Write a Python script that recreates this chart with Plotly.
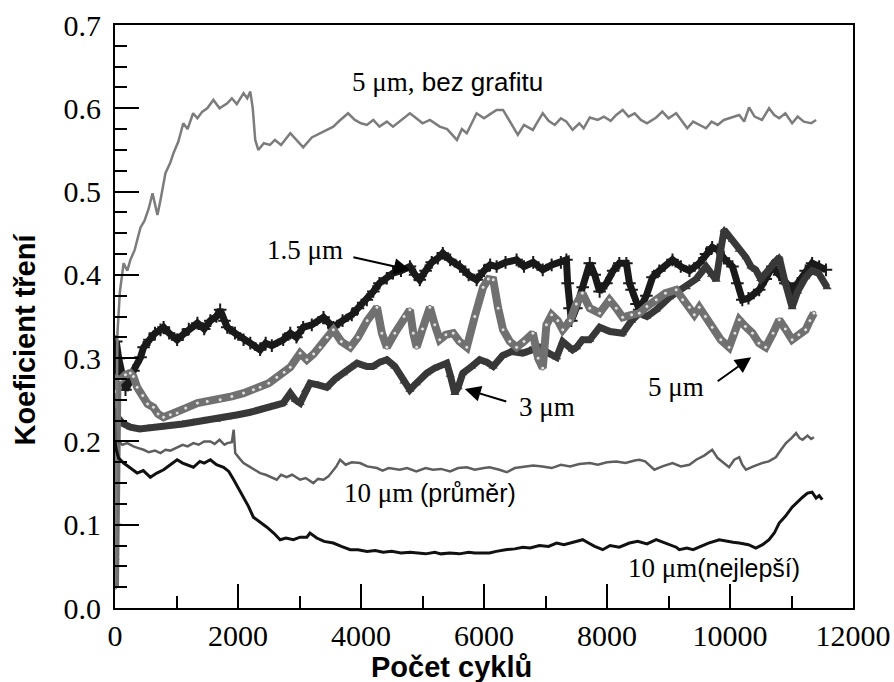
import plotly.graph_objects as go

# ---------------- data (cycles, friction coefficient) ----------------
bez_grafitu_5um = [(0,0.03),(20,0.2),(40,0.33),(80,0.38),(140,0.414),(200,0.405),(250,0.418),(320,0.43),(415,0.457),(480,0.465),(550,0.48),(610,0.498),(650,0.485),(690,0.472),(740,0.49),(820,0.522),(900,0.535),(950,0.546),(1030,0.56),(1110,0.582),(1180,0.575),(1270,0.594),(1340,0.588),(1420,0.596),(1500,0.6),(1600,0.61),(1700,0.6),(1825,0.606),(1900,0.612),(1980,0.605),(2090,0.618),(2150,0.612),(2200,0.62),(2240,0.6),(2280,0.562),(2330,0.55),(2420,0.558),(2520,0.556),(2600,0.562),(2700,0.556),(2850,0.57),(2950,0.562),(3060,0.553),(3200,0.565),(3335,0.57),(3450,0.575),(3550,0.578),(3650,0.585),(3790,0.594),(3900,0.586),(4000,0.582),(4095,0.58),(4200,0.586),(4300,0.578),(4420,0.584),(4520,0.578),(4650,0.586),(4795,0.594),(4900,0.588),(5000,0.582),(5120,0.586),(5280,0.578),(5400,0.575),(5480,0.568),(5560,0.562),(5640,0.575),(5720,0.57),(5880,0.594),(6000,0.588),(6100,0.593),(6205,0.598),(6310,0.598),(6420,0.585),(6550,0.568),(6650,0.58),(6795,0.574),(6880,0.585),(6955,0.594),(7050,0.585),(7150,0.58),(7250,0.588),(7340,0.584),(7440,0.574),(7550,0.582),(7620,0.576),(7720,0.589),(7850,0.586),(7950,0.59),(8060,0.585),(8150,0.592),(8255,0.598),(8350,0.59),(8450,0.594),(8550,0.586),(8650,0.582),(8800,0.589),(8900,0.596),(9000,0.588),(9125,0.594),(9200,0.586),(9305,0.576),(9400,0.584),(9500,0.58),(9610,0.576),(9700,0.584),(9800,0.58),(9900,0.586),(10040,0.589),(10150,0.592),(10230,0.584),(10310,0.601),(10400,0.59),(10520,0.586),(10635,0.6),(10720,0.592),(10800,0.588),(10900,0.594),(11010,0.582),(11100,0.59),(11200,0.584),(11320,0.582),(11400,0.586)]

um_1_5 = [(0,0.10),(10,0.2),(20,0.32),(60,0.3),(120,0.275),(170,0.262),(230,0.27),(300,0.285),(415,0.301),(465,0.313),(560,0.322),(650,0.33),(740,0.334),(790,0.337),(880,0.33),(1010,0.322),(1100,0.328),(1200,0.335),(1340,0.342),(1450,0.335),(1550,0.345),(1650,0.35),(1710,0.358),(1780,0.345),(1825,0.337),(1950,0.33),(2090,0.322),(2200,0.318),(2360,0.31),(2450,0.318),(2550,0.315),(2735,0.322),(2850,0.33),(2950,0.325),(3060,0.337),(3200,0.34),(3390,0.349),(3470,0.342),(3550,0.337),(3700,0.345),(3850,0.352),(3950,0.36),(4095,0.37),(4200,0.38),(4300,0.39),(4420,0.396),(4520,0.402),(4650,0.405),(4795,0.41),(4880,0.4),(4955,0.394),(5050,0.405),(5150,0.415),(5250,0.42),(5330,0.426),(5450,0.418),(5610,0.41),(5750,0.4),(5880,0.394),(6000,0.405),(6100,0.412),(6205,0.41),(6350,0.415),(6530,0.418),(6650,0.41),(6800,0.415),(6955,0.406),(7100,0.412),(7250,0.415),(7340,0.418),(7360,0.39),(7390,0.36),(7420,0.345),(7500,0.36),(7605,0.385),(7720,0.414),(7800,0.4),(7880,0.38),(7990,0.39),(8100,0.405),(8200,0.414),(8315,0.414),(8365,0.39),(8400,0.382),(8480,0.365),(8525,0.358),(8640,0.375),(8740,0.397),(8850,0.405),(9065,0.418),(9200,0.41),(9340,0.405),(9500,0.414),(9610,0.425),(9710,0.433),(9800,0.43),(9900,0.42),(10040,0.41),(10120,0.39),(10200,0.37),(10300,0.372),(10475,0.382),(10580,0.395),(10690,0.41),(10800,0.4),(10900,0.39),(11010,0.382),(11100,0.39),(11230,0.405),(11335,0.414),(11450,0.41),(11560,0.406)]

um_3 = [(0,0.06),(5,0.13),(10,0.19),(20,0.24),(40,0.229),(120,0.222),(250,0.217),(400,0.215),(550,0.216),(740,0.217),(900,0.219),(1100,0.221),(1275,0.223),(1450,0.225),(1650,0.226),(1825,0.229),(2000,0.232),(2200,0.235),(2360,0.238),(2550,0.242),(2735,0.246),(2850,0.258),(2930,0.25),(3010,0.246),(3100,0.262),(3170,0.27),(3300,0.268),(3445,0.265),(3580,0.275),(3715,0.282),(3850,0.29),(3935,0.294),(4095,0.29),(4195,0.29),(4300,0.295),(4420,0.298),(4550,0.29),(4700,0.272),(4795,0.262),(4900,0.27),(5070,0.282),(5200,0.288),(5395,0.294),(5450,0.28),(5525,0.258),(5580,0.265),(5655,0.282),(5800,0.29),(5930,0.298),(6050,0.295),(6150,0.29),(6300,0.303),(6450,0.308),(6630,0.306),(6750,0.31),(6905,0.313),(7050,0.306),(7180,0.301),(7280,0.32),(7440,0.31),(7505,0.313),(7600,0.322),(7720,0.322),(7880,0.337),(8050,0.332),(8255,0.33),(8400,0.345),(8525,0.354),(8650,0.35),(8800,0.358),(9015,0.373),(9150,0.38),(9290,0.385),(9450,0.395),(9610,0.41),(9700,0.4),(9775,0.394),(9850,0.43),(9905,0.454),(9970,0.448),(10040,0.442),(10150,0.43),(10260,0.421),(10340,0.41),(10420,0.406),(10500,0.395),(10580,0.402),(10700,0.415),(10800,0.421),(10900,0.39),(11010,0.361),(11100,0.38),(11230,0.397),(11330,0.405),(11440,0.402),(11580,0.385)]

um_5 = [(0,0.025),(5,0.15),(10,0.26),(40,0.275),(90,0.274),(170,0.28),(250,0.282),(300,0.278),(360,0.265),(450,0.255),(530,0.245),(625,0.241),(700,0.233),(790,0.229),(900,0.232),(1010,0.234),(1150,0.24),(1340,0.246),(1500,0.248),(1710,0.25),(1900,0.254),(2090,0.258),(2250,0.262),(2360,0.265),(2500,0.27),(2630,0.277),(2750,0.283),(2850,0.289),(3010,0.306),(3120,0.298),(3230,0.305),(3335,0.313),(3450,0.325),(3550,0.334),(3680,0.32),(3825,0.313),(3950,0.325),(4100,0.345),(4260,0.361),(4340,0.33),(4420,0.313),(4550,0.33),(4700,0.35),(4795,0.358),(4850,0.33),(4905,0.313),(5000,0.335),(5120,0.361),(5200,0.34),(5280,0.322),(5380,0.328),(5500,0.33),(5600,0.32),(5720,0.313),(5850,0.35),(5985,0.385),(6070,0.395),(6150,0.394),(6230,0.36),(6310,0.334),(6420,0.32),(6530,0.313),(6650,0.32),(6795,0.33),(6880,0.3),(6955,0.288),(7015,0.34),(7100,0.352),(7200,0.345),(7280,0.334),(7400,0.345),(7500,0.365),(7600,0.378),(7720,0.36),(7880,0.354),(8040,0.37),(8150,0.36),(8255,0.349),(8400,0.352),(8525,0.354),(8650,0.362),(8800,0.37),(8950,0.378),(9125,0.382),(9230,0.37),(9340,0.361),(9420,0.352),(9500,0.361),(9600,0.35),(9710,0.337),(9850,0.322),(9985,0.313),(10080,0.33),(10150,0.346),(10250,0.338),(10365,0.33),(10470,0.318),(10580,0.313),(10700,0.33),(10800,0.346),(10900,0.335),(11010,0.322),(11120,0.328),(11230,0.334),(11300,0.345),(11365,0.354)]

um_10_prumer = [(0,0.24),(10,0.21),(20,0.2),(40,0.2),(120,0.196),(200,0.198),(300,0.194),(380,0.192),(465,0.19),(550,0.187),(650,0.189),(740,0.186),(820,0.19),(900,0.189),(1010,0.193),(1100,0.196),(1180,0.194),(1275,0.198),(1360,0.196),(1450,0.2),(1550,0.2),(1620,0.197),(1700,0.202),(1780,0.196),(1825,0.198),(1900,0.199),(1930,0.214),(1945,0.198),(1955,0.186),(2020,0.18),(2090,0.174),(2180,0.17),(2270,0.166),(2360,0.162),(2450,0.16),(2540,0.157),(2630,0.154),(2700,0.16),(2790,0.157),(2880,0.16),(3010,0.154),(3100,0.156),(3225,0.15),(3300,0.155),(3390,0.154),(3470,0.158),(3550,0.166),(3600,0.17),(3660,0.178),(3750,0.172),(3850,0.175),(3985,0.174),(4100,0.17),(4260,0.168),(4350,0.165),(4450,0.168),(4630,0.166),(4750,0.168),(4900,0.164),(5050,0.168),(5170,0.166),(5300,0.167),(5450,0.164),(5580,0.168),(5720,0.169),(5850,0.166),(6000,0.168),(6090,0.169),(6250,0.166),(6370,0.163),(6500,0.168),(6630,0.169),(6800,0.171),(6950,0.17),(7100,0.168),(7250,0.172),(7400,0.17),(7550,0.173),(7720,0.174),(7850,0.172),(8000,0.175),(8150,0.176),(8300,0.174),(8450,0.177),(8525,0.178),(8620,0.176),(8700,0.17),(8770,0.166),(8900,0.17),(9065,0.174),(9200,0.17),(9340,0.172),(9450,0.178),(9580,0.183),(9710,0.19),(9800,0.18),(9900,0.174),(9985,0.169),(10070,0.178),(10150,0.181),(10200,0.172),(10260,0.166),(10380,0.17),(10520,0.174),(10630,0.176),(10745,0.181),(10830,0.19),(10910,0.198),(11000,0.204),(11075,0.21),(11130,0.204),(11180,0.202),(11260,0.207),(11320,0.203),(11365,0.205)]

um_10_nejlepsi = [(0,0.2),(20,0.19),(60,0.18),(140,0.174),(250,0.168),(360,0.162),(460,0.165),(575,0.157),(680,0.162),(790,0.166),(900,0.172),(1010,0.178),(1100,0.174),(1180,0.172),(1275,0.169),(1380,0.176),(1450,0.174),(1550,0.178),(1650,0.172),(1765,0.169),(1850,0.164),(1930,0.154),(2000,0.145),(2090,0.133),(2170,0.122),(2250,0.109),(2350,0.104),(2470,0.097),(2580,0.09),(2685,0.082),(2780,0.084),(2900,0.082),(3010,0.085),(3120,0.085),(3170,0.09),(3280,0.084),(3400,0.08),(3550,0.078),(3680,0.074),(3825,0.07),(3950,0.07),(4100,0.068),(4230,0.069),(4360,0.067),(4500,0.068),(4650,0.066),(4800,0.067),(4905,0.066),(5050,0.065),(5200,0.067),(5300,0.065),(5445,0.066),(5600,0.065),(5750,0.067),(5850,0.066),(5985,0.066),(6090,0.066),(6200,0.068),(6350,0.07),(6500,0.071),(6630,0.073),(6750,0.072),(6900,0.075),(7050,0.074),(7180,0.078),(7300,0.076),(7450,0.079),(7605,0.082),(7700,0.078),(7800,0.074),(7930,0.07),(8050,0.075),(8200,0.073),(8365,0.078),(8500,0.08),(8650,0.077),(8800,0.082),(8950,0.078),(9125,0.073),(9175,0.07),(9300,0.072),(9400,0.07),(9500,0.073),(9650,0.078),(9825,0.082),(9950,0.08),(10050,0.079),(10150,0.078),(10300,0.076),(10420,0.072),(10530,0.076),(10635,0.082),(10720,0.09),(10800,0.102),(10900,0.11),(11010,0.121),(11100,0.128),(11180,0.133),(11260,0.138),(11335,0.139),(11400,0.132),(11450,0.135),(11500,0.13)]

x_ticks = [0, 2000, 4000, 6000, 8000, 10000, 12000]
y_ticks = [0.0, 0.1, 0.2, 0.3, 0.4, 0.5, 0.6, 0.7]
x_title = "Počet cyklů"
y_title = "Koeficient tření"

SERIF = "Liberation Serif, Times New Roman, serif"
SANS = "Liberation Sans, Arial, sans-serif"


def xy(pairs):
    return [p[0] for p in pairs], [p[1] for p in pairs]


fig = go.Figure()

# thick marker series
x, y = xy(um_1_5)
fig.add_trace(go.Scatter(x=x, y=y, mode="lines+markers",
                         line=dict(color="#1a1a1a", width=7),
                         marker=dict(symbol="cross-thin", size=9, line=dict(color="#1a1a1a", width=2))))
x, y = xy(um_3)
fig.add_trace(go.Scatter(x=x, y=y, mode="lines+markers",
                         line=dict(color="#383838", width=7),
                         marker=dict(symbol="triangle-up", size=8, color="#383838")))
x, y = xy(um_5)
fig.add_trace(go.Scatter(x=x, y=y, mode="lines+markers",
                         line=dict(color="#707070", width=8),
                         marker=dict(symbol="circle", size=4, color="#e0e0e0",
                                     line=dict(color="#707070", width=1))))
# thin lines
x, y = xy(bez_grafitu_5um)
fig.add_trace(go.Scatter(x=x, y=y, mode="lines", line=dict(color="#7c7c7c", width=2.5)))
x, y = xy(um_10_prumer)
fig.add_trace(go.Scatter(x=x, y=y, mode="lines", line=dict(color="#5e5e5e", width=2.5)))
x, y = xy(um_10_nejlepsi)
fig.add_trace(go.Scatter(x=x, y=y, mode="lines", line=dict(color="#111111", width=3)))

axis_common = dict(
    showgrid=False, zeroline=False, showline=True, linecolor="black", linewidth=2,
    mirror=True, ticks="inside", ticklen=24, tickwidth=2, tickcolor="black",
    tickfont=dict(family=SERIF, size=30, color="black"), automargin=False,
)
fig.update_xaxes(range=[0, 12000], tickvals=x_ticks, ticktext=[str(v) for v in x_ticks],
                 minor=dict(dtick=1000, ticks="inside", ticklen=12, tickwidth=2, tickcolor="black"),
                 **axis_common)
fig.update_yaxes(range=[0, 0.7], tickvals=y_ticks, ticktext=[f"{v:.1f}" for v in y_ticks],
                 minor=dict(dtick=0.025, ticks="inside", ticklen=12, tickwidth=2, tickcolor="black"),
                 ticklabelstandoff=6, **axis_common)

serif_span = '<span style="font-family:Liberation Serif;font-size:27px">{}</span>'
ann = []
ann.append(dict(x=5400, y=0.631, text=serif_span.format("5 μm,") + " bez grafitu",
                font=dict(family=SANS, size=26)))
ann.append(dict(x=3096, y=0.43, text="1.5 μm", font=dict(family=SERIF, size=27)))
ann.append(dict(x=7017, y=0.241, text="3 μm", font=dict(family=SERIF, size=27)))
ann.append(dict(x=9127, y=0.265, text="5 μm", font=dict(family=SERIF, size=27)))
ann.append(dict(x=5120, y=0.138, text=serif_span.format("10 μm ") + "(průměr)",
                font=dict(family=SANS, size=25)))
ann.append(dict(x=9743, y=0.048, text=serif_span.format("10 μm") + "(nejlepší)",
                font=dict(family=SANS, size=25)))
for a in ann:
    a.update(xref="x", yref="y", showarrow=False, xanchor="center", yanchor="middle",
             font=dict(a["font"], color="black"))

arrows = [
    dict(x=4795, y=0.406, ax=-58, ay=-13),
    dict(x=5687, y=0.263, ax=43, ay=13),
    dict(x=10344, y=0.301, ax=-35, ay=25),
]
for a in arrows:
    a.update(xref="x", yref="y", text="", showarrow=True, arrowhead=2, arrowsize=1.6,
             arrowwidth=2, arrowcolor="black", standoff=0)
    ann.append(a)

W, H = 894, 682
L, T = 114.5, 25
R = W - 853
B = H - 608

ann.append(dict(x=451, y=667, text="<b>" + x_title + "</b>", textangle=0,
                font=dict(family=SANS, size=29, color="black")))
ann.append(dict(x=24, y=340, text="<b>" + y_title + "</b>", textangle=-90,
                font=dict(family=SANS, size=29, color="black")))
for a in ann[-2:]:
    a.update(xref="paper", yref="paper", showarrow=False, xanchor="center", yanchor="middle")
    a["x"] = (a["x"] - L) / (W - L - R)
    a["y"] = (H - B - a["y"]) / (H - T - B)

fig.update_layout(width=W, height=H, margin=dict(l=L, r=R, t=T, b=B, autoexpand=False),
                  paper_bgcolor="white", plot_bgcolor="white", showlegend=False,
                  hovermode=False, annotations=ann)

# remove the browser's default 8px body margin so the figure fills the 894x682 window exactly
fig.write_html("out.html", config={"displayModeBar": False},
               post_script="document.body.style.margin='0';document.body.style.overflow='hidden';")
